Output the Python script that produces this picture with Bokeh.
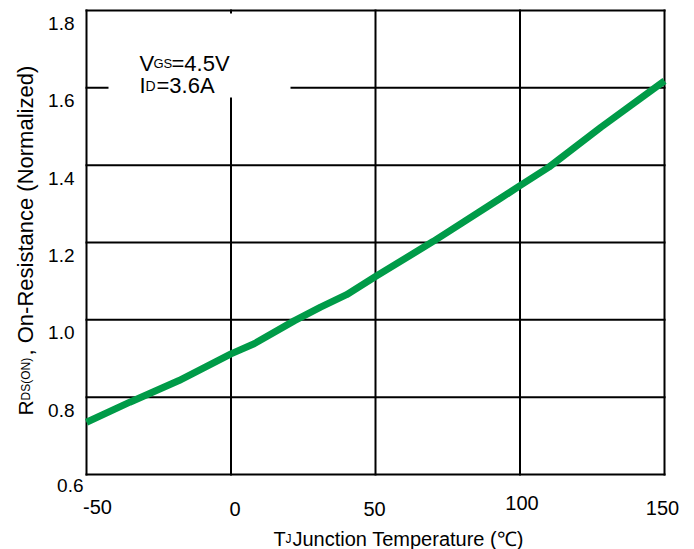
import math
from bokeh.plotting import figure
from bokeh.models import Label
from bokeh.embed import file_html
from bokeh.resources import INLINE

# ---- data ----
temp_c = [-50, -35, -18, 0, 8, 22, 31, 40, 50, 70, 93, 100, 110, 128, 150]
rds_norm = [0.735, 0.787, 0.843, 0.912, 0.938, 0.998, 1.033, 1.065, 1.112,
            1.203, 1.313, 1.347, 1.395, 1.498, 1.618]
x_ticks = [-50, 0, 50, 100, 150]
x_tick_labels = ["-50", "0", "50", "100", "150"]
y_ticks = [0.6, 0.8, 1.0, 1.2, 1.4, 1.6, 1.8]
y_tick_labels = ["0.6", "0.8", "1.0", "1.2", "1.4", "1.6", "1.8"]

# ---- layout (pixel frame of the plotting area inside the canvas) ----
W, H = 694, 549
FL, FR, FT, FB = 86, 664, 10, 474
X0, X1, Y0, Y1 = -50, 150, 0.6, 1.8
FONT = "Liberation Sans"
GREEN = "#009B48"


def dx(xp):
    return X0 + (xp - FL) * (X1 - X0) / (FR - FL)


def dy(yp):
    return Y1 - (yp - FT) * (Y1 - Y0) / (FB - FT)


def px_x(v):
    return FL + (v - X0) * (FR - FL) / (X1 - X0)


def px_y(v):
    return FT + (Y1 - v) * (FB - FT) / (Y1 - Y0)


# the figure frame spans the whole canvas so that outer texts are not clipped
p = figure(width=W, height=H, x_range=(dx(0), dx(W)), y_range=(dy(H), dy(0)),
           x_axis_location=None, y_axis_location=None,
           output_backend="svg", toolbar_location=None, min_border=0)
p.outline_line_color = None
p.background_fill_color = "white"
p.border_fill_color = "white"
p.xgrid.visible = False
p.ygrid.visible = False

# grid + frame lines at the tick values
p.segment(x0=x_ticks, y0=[Y0] * len(x_ticks), x1=x_ticks, y1=[Y1] * len(x_ticks),
          line_color="black", line_width=2, line_cap="square")
p.segment(x0=[X0] * len(y_ticks), y0=y_ticks, x1=[X1] * len(y_ticks), y1=y_ticks,
          line_color="black", line_width=2, line_cap="square")

# white box behind the condition text
p.quad(left=[dx(108)], right=[dx(290)], top=[dy(13)], bottom=[dy(97)],
       fill_color="white", line_color=None)

p.line(temp_c, rds_norm, line_color=GREEN, line_width=7)


def lab(text, xp, yp, size, angle=0.0, align="left", baseline="alphabetic"):
    p.add_layout(Label(x=xp, y=yp, x_units="canvas", y_units="canvas",
                       text=text, text_font=FONT,
                       text_font_size=f"{size}px", text_color="black",
                       text_align=align, text_baseline=baseline, angle=angle))


# condition text
lab("V", 139, 63, 22)
lab("GS", 153, 63, 13)
lab("=4.5V", 171, 63, 22)
lab("I", 139, 85, 22)
lab("D", 145, 85, 14)
lab("=3.6A", 156, 85, 22)

# x tick labels (small per-label nudges as in the original)
x_nudge = {"-50": (11, -2), "0": (4, 0), "50": (-1, 0), "100": (2, -6), "150": (-2, -1)}
for v, t in zip(x_ticks, x_tick_labels):
    nx, ny = x_nudge.get(t, (0, 0))
    lab(t, px_x(v) + nx, 508 + ny, 20, align="center")

# y tick labels
y_nudge = {"0.6": (9, -2)}
for v, t in zip(y_ticks, y_tick_labels):
    nx, ny = y_nudge.get(t, (0, 0))
    lab(t, 74 + nx, px_y(v) + 13 + ny, 19, align="right")

# x axis title
lab("T", 273, 538, 20)
lab("J", 285, 538, 12)
lab(" Junction Temperature (\u2103)", 292, 538, 20)

# y axis title (rotated)
rot = math.pi / 2
lab("R", 25, 415, 21, angle=rot)
lab("DS(ON)", 25, 400, 12, angle=rot)
lab(" , On-Resistance (Normalized)", 25, 355, 22, angle=rot)

open("out.html", "w").write(file_html(p, INLINE))
